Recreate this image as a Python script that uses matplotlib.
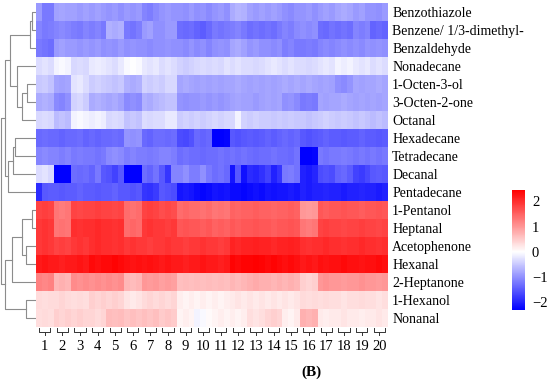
import numpy as np
import matplotlib.pyplot as plt
from matplotlib.colors import LinearSegmentedColormap, Normalize

plt.rcParams['font.family'] = ['Liberation Serif', 'DejaVu Serif']

compounds = ["Benzothiazole", "Benzene/ 1/3-dimethyl-", "Benzaldehyde", "Nonadecane",
             "1-Octen-3-ol", "3-Octen-2-one", "Octanal", "Hexadecane", "Tetradecane",
             "Decanal", "Pentadecane", "1-Pentanol", "Heptanal", "Acetophenone",
             "Hexanal", "2-Heptanone", "1-Hexanol", "Nonanal"]
groups = ["1", "2", "3", "4", "5", "6", "7", "8", "9", "10",
          "11", "12", "13", "14", "15", "16", "17", "18", "19", "20"]
n_rep = 3

# scaled values, 3 replicates per sample group
benzothiazole = [-0.9,-1.2,-1.2, -0.85,-0.8,-0.85, -0.85,-0.9,-0.85, -0.9,-0.85,-0.9, -0.95,-0.9,-1.0, -0.9,-0.95,-0.9, -1.1,-1.15,-1.05, -0.95,-0.9,-0.95, -0.95,-1.0,-0.9, -1.0,-0.95,-1.05, -0.95,-0.9,-1.0, -0.75,-0.65,-0.7, -0.85,-0.9,-0.85, -0.9,-0.85,-0.9, -1.0,-1.05,-0.95, -0.95,-0.9,-1.0, -0.9,-0.85,-0.9, -0.8,-0.75,-0.8, -0.9,-0.85,-0.95, -0.95,-1.0,-0.9]
benzene = [-1.1,-1.2,-1.15, -1.1,-1.05,-1.1, -1.15,-1.2,-1.1, -1.15,-1.1,-1.2, -0.7,-0.75,-0.7, -1.2,-1.25,-1.15, -0.9,-0.85,-1.0, -1.0,-0.9,-0.9, -1.3,-1.35,-1.3, -1.4,-1.45,-1.35, -1.2,-1.25,-1.2, -1.15,-1.1,-1.2, -1.3,-1.25,-1.3, -1.25,-1.3,-1.2, -1.1,-1.15,-1.05, -1.0,-1.05,-1.0, -1.3,-1.35,-1.25, -1.3,-1.25,-1.3, -1.1,-1.15,-1.1, -1.4,-1.35,-1.4]
benzaldehyde = [-1.2,-1.25,-1.3, -0.9,-0.85,-0.9, -0.9,-0.95,-0.9, -0.95,-0.9,-1.0, -0.95,-1.0,-0.9, -1.0,-0.95,-1.0, -1.0,-1.05,-1.0, -1.0,-0.95,-1.0, -1.0,-1.05,-0.95, -1.05,-1.0,-1.1, -1.0,-0.95,-1.0, -0.8,-0.75,-0.85, -0.95,-0.9,-1.0, -1.0,-1.05,-1.0, -1.15,-1.1,-1.2, -1.2,-1.15,-1.2, -1.1,-1.05,-1.1, -1.05,-1.0,-1.05, -1.0,-1.05,-0.95, -1.0,-0.95,-1.0]
nonadecane = [-0.3,-0.25,-0.3, -0.1,-0.05,-0.1, -0.35,-0.3,-0.35, -0.2,-0.15,-0.2, -0.25,-0.3,-0.2, -0.05,0.0,-0.05, -0.2,-0.25,-0.2, -0.3,-0.25,-0.3, -0.4,-0.45,-0.4, -0.35,-0.3,-0.35, -0.3,-0.35,-0.25, -0.3,-0.25,-0.3, -0.3,-0.35,-0.3, -0.25,-0.2,-0.25, -0.3,-0.25,-0.3, -0.3,-0.35,-0.3, -0.25,-0.2,-0.25, -0.1,-0.15,-0.1, -0.2,-0.25,-0.2, -0.3,-0.25,-0.3]
octenol = [-0.5,-0.45,-0.55, -0.8,-0.85,-0.8, -0.25,-0.2,-0.3, -0.45,-0.4,-0.45, -0.5,-0.55,-0.5, -0.7,-0.75,-0.7, -0.4,-0.45,-0.4, -0.45,-0.35,-0.35, -0.8,-0.75,-0.8, -0.85,-0.8,-0.85, -0.8,-0.85,-0.8, -0.8,-0.75,-0.8, -0.85,-0.8,-0.85, -0.8,-0.85,-0.8, -0.75,-0.8,-0.75, -0.8,-0.75,-0.8, -0.85,-0.8,-0.85, -1.0,-1.05,-0.95, -0.8,-0.85,-0.8, -0.8,-0.75,-0.8]
octenone = [-0.75,-0.7,-0.75, -1.05,-1.1,-1.0, -0.4,-0.35,-0.45, -0.75,-0.7,-0.75, -0.8,-0.75,-0.85, -1.05,-1.0,-1.05, -0.7,-0.75,-0.65, -0.6,-0.55,-0.55, -0.95,-1.0,-0.95, -0.95,-0.9,-0.95, -0.9,-0.95,-0.9, -0.85,-0.8,-0.85, -0.85,-0.9,-0.85, -0.8,-0.85,-0.8, -1.0,-0.95,-1.05, -1.2,-1.15,-1.2, -0.8,-0.85,-0.8, -0.8,-0.75,-0.8, -0.85,-0.8,-0.85, -0.8,-0.85,-0.8]
octanal = [-0.35,-0.3,-0.35, -0.6,-0.55,-0.6, -0.1,-0.05,-0.1, -0.15,-0.1,-0.15, -0.35,-0.3,-0.35, -0.55,-0.5,-0.55, -0.3,-0.35,-0.3, -0.3,-0.2,-0.2, -0.45,-0.4,-0.45, -0.4,-0.45,-0.4, -0.35,-0.4,-0.35, -0.35,-0.1,-0.4, -0.45,-0.4,-0.45, -0.45,-0.5,-0.45, -0.5,-0.45,-0.5, -0.5,-0.55,-0.5, -0.45,-0.4,-0.45, -0.5,-0.45,-0.5, -0.55,-0.5,-0.55, -0.6,-0.55,-0.6]
hexadecane = [-1.35,-1.3,-1.35, -1.35,-1.4,-1.35, -1.35,-1.3,-1.4, -1.35,-1.4,-1.35, -1.35,-1.3,-1.35, -0.95,-1.0,-0.95, -1.35,-1.4,-1.3, -1.3,-1.35,-1.3, -1.6,-1.65,-1.55, -1.35,-1.4,-1.35, -2.3,-2.3,-2.25, -1.5,-1.55,-1.5, -1.45,-1.5,-1.45, -1.4,-1.45,-1.4, -1.35,-1.4,-1.35, -1.5,-1.55,-1.5, -1.45,-1.4,-1.45, -1.45,-1.5,-1.45, -1.45,-1.4,-1.45, -1.45,-1.5,-1.45]
tetradecane = [-1.1,-1.05,-1.1, -1.1,-1.15,-1.1, -1.2,-1.15,-1.2, -1.2,-1.25,-1.2, -1.05,-1.0,-1.05, -1.15,-1.1,-1.15, -1.15,-1.2,-1.15, -1.1,-1.1,-1.15, -1.3,-1.25,-1.3, -1.3,-1.35,-1.3, -1.3,-1.25,-1.3, -1.25,-1.3,-1.25, -1.3,-1.35,-1.3, -1.3,-1.25,-1.3, -1.3,-1.35,-1.25, -2.3,-2.3,-2.25, -1.2,-1.25,-1.2, -1.2,-1.15,-1.2, -1.25,-1.2,-1.25, -1.2,-1.25,-1.2]
decanal = [-0.3,-0.25,-0.35, -2.3,-2.3,-2.3, -1.3,-1.35,-1.3, -1.4,-1.2,-1.5, -1.55,-1.7,-1.5, -2.3,-2.3,-2.3, -1.3,-1.4,-1.25, -1.5,-1.8,-1.1, -1.1,-1.0,-1.15, -1.15,-1.0,-1.2, -1.3,-1.25,-1.35, -2.1,-1.5,-2.15, -1.9,-1.95,-1.85, -1.7,-2.0,-1.8, -1.2,-1.15,-1.25, -2.0,-2.05,-1.95, -1.6,-1.55,-1.6, -1.4,-1.35,-1.45, -1.7,-1.75,-1.65, -1.5,-1.45,-1.5]
pentadecane = [-1.9,-1.5,-1.45, -1.45,-1.5,-1.45, -1.45,-1.4,-1.45, -1.45,-1.5,-1.45, -1.45,-1.4,-1.5, -1.5,-1.55,-1.5, -1.8,-1.85,-1.75, -1.5,-1.55,-1.6, -2.1,-2.05,-2.1, -2.2,-2.25,-2.2, -2.1,-2.15,-2.1, -2.2,-2.2,-2.25, -2.2,-2.15,-2.2, -2.1,-2.15,-2.1, -2.1,-2.05,-2.1, -2.0,-2.05,-2.0, -2.0,-1.95,-2.0, -2.0,-2.05,-2.0, -2.0,-1.95,-2.0, -2.0,-2.05,-2.0]
pentanol = [1.8,1.85,1.8, 1.3,1.25,1.3, 1.8,1.75,1.8, 1.8,1.85,1.8, 1.8,1.75,1.8, 1.4,1.35,1.4, 1.8,1.85,1.8, 1.7,1.75,1.7, 1.4,1.45,1.4, 1.4,1.35,1.4, 1.3,1.35,1.3, 1.5,1.45,1.5, 1.5,1.55,1.5, 1.5,1.45,1.5, 1.5,1.55,1.5, 1.0,0.95,1.0, 1.6,1.55,1.6, 1.6,1.65,1.6, 1.6,1.55,1.6, 1.6,1.65,1.6]
heptanal = [1.9,1.95,1.9, 1.3,1.35,1.3, 2.0,1.95,2.0, 2.0,2.05,2.0, 2.0,1.95,2.0, 1.4,1.45,1.4, 1.9,1.95,1.9, 1.9,1.85,1.9, 1.6,1.65,1.6, 1.6,1.55,1.6, 1.5,1.55,1.5, 1.6,1.55,1.6, 1.6,1.65,1.6, 1.6,1.55,1.6, 1.6,1.65,1.6, 1.3,1.25,1.3, 1.8,1.85,1.8, 1.8,1.75,1.8, 1.8,1.85,1.8, 1.8,1.75,1.8]
acetophenone = [1.9,1.95,1.9, 1.8,1.85,1.8, 1.9,1.95,1.9, 2.0,2.05,2.0, 2.0,1.95,2.0, 1.9,1.95,1.9, 1.9,1.85,1.9, 1.9,1.95,1.9, 1.9,1.85,1.9, 1.9,1.95,1.9, 1.9,1.85,1.9, 2.1,2.05,2.1, 2.1,2.15,2.1, 2.1,2.05,2.1, 2.1,2.15,2.1, 2.0,1.95,2.0, 2.0,2.05,2.0, 2.0,1.95,2.0, 2.0,2.05,2.0, 2.0,1.95,2.0]
hexanal = [2.2,2.25,2.2, 2.2,2.15,2.2, 2.2,2.25,2.2, 2.35,2.3,2.35, 2.35,2.4,2.35, 2.3,2.25,2.3, 2.25,2.3,2.25, 2.2,2.25,2.2, 2.2,2.15,2.2, 2.2,2.25,2.2, 2.2,2.15,2.2, 2.4,2.35,2.4, 2.4,2.45,2.4, 2.35,2.4,2.35, 2.3,2.35,2.3, 2.2,2.25,2.2, 2.3,2.25,2.3, 2.3,2.35,2.3, 2.3,2.25,2.3, 2.3,2.35,2.3]
heptanone = [1.2,1.15,1.2, 0.7,0.75,0.7, 1.1,1.05,1.1, 1.05,1.1,1.05, 1.1,1.05,1.1, 0.7,0.65,0.7, 1.0,0.95,1.0, 0.9,0.95,0.9, 0.6,0.65,0.6, 0.65,0.6,0.65, 0.6,0.65,0.6, 0.7,0.65,0.7, 0.75,0.8,0.75, 0.75,0.7,0.75, 0.7,0.75,0.7, 0.45,0.4,0.45, 1.0,1.05,1.0, 1.0,0.95,1.0, 1.0,1.05,1.0, 1.0,0.95,1.0]
hexanol = [0.35,0.3,0.35, 0.35,0.4,0.35, 0.3,0.35,0.3, 0.45,0.4,0.45, 0.4,0.45,0.4, 0.25,0.2,0.25, 0.35,0.4,0.35, 0.4,0.35,0.4, 0.15,0.1,0.15, 0.1,0.15,0.1, 0.15,0.1,0.15, 0.2,0.25,0.2, 0.25,0.2,0.25, 0.2,0.25,0.2, 0.25,0.2,0.25, 0.35,0.3,0.35, 0.3,0.35,0.3, 0.3,0.25,0.3, 0.3,0.35,0.3, 0.3,0.25,0.3]
nonanal = [0.3,0.35,0.3, 0.45,0.4,0.45, 0.4,0.45,0.4, 0.4,0.35,0.4, 0.65,0.6,0.65, 0.55,0.6,0.55, 0.6,0.55,0.6, 0.5,0.55,0.5, 0.1,0.15,0.1, -0.1,-0.05,0.05, 0.1,0.15,0.1, 0.15,0.1,0.15, 0.3,0.25,0.3, 0.4,0.45,0.4, 0.15,0.1,0.2, 0.75,0.7,0.75, 0.2,0.15,0.2, 0.2,0.25,0.2, 0.2,0.15,0.2, 0.2,0.25,0.2]

values = [benzothiazole, benzene, benzaldehyde, nonadecane, octenol, octenone, octanal,
          hexadecane, tetradecane, decanal, pentadecane, pentanol, heptanal, acetophenone,
          hexanal, heptanone, hexanol, nonanal]

# row dendrogram merges (scipy style ids: leaves 0-17, new clusters from 18)
linkage = [(0, 1, 4), (18, 2, 6), (4, 5, 9), (20, 6, 14), (3, 21, 19), (19, 22, 26),
           (7, 8, 21), (24, 9, 23), (25, 10, 28), (23, 26, 31),
           (11, 12, 4), (13, 14, 10), (28, 29, 14), (30, 15, 24), (16, 17, 10),
           (31, 32, 31), (27, 33, 35)]

vmin, vmax = -2.3, 2.45

data = np.array(values)
W, H = 550, 385
fig = plt.figure(figsize=(W / 100, H / 100), dpi=100)

def box(x0, y0, x1, y1):
    return [x0 / W, 1 - y1 / H, (x1 - x0) / W, (y1 - y0) / H]

ax = fig.add_axes(box(36, 3, 388, 327))
cmap = LinearSegmentedColormap.from_list(
    'bwr2', [(0, 'blue'), (-vmin / (vmax - vmin), 'white'), (1, 'red')])
im = ax.imshow(data, cmap=cmap, norm=Normalize(vmin, vmax), aspect='auto',
               interpolation='nearest')
for s in ax.spines.values():
    s.set_visible(False)
ax.yaxis.tick_right()
ax.set_yticks(range(len(compounds)))
ax.set_yticklabels(compounds, fontsize=10)
centers = [g * n_rep + (n_rep - 1) / 2 for g in range(len(groups))]
ax.set_xticks(centers)
ax.set_xticklabels(groups, fontsize=10.5)
ax.tick_params(length=0)
ax.tick_params(axis='y', pad=3)
ax.tick_params(axis='x', pad=9)

# braces under each sample group
xl, yl = ax.get_xlim(), ax.get_ylim()
bot = len(compounds) - 0.5
for c in centers:
    x0, x1 = c - 0.95, c + 0.95
    ax.plot([x0, x0, x1, x1], [bot + 0.06, bot + 0.27, bot + 0.27, bot + 0.06],
            color='#333333', lw=0.7, clip_on=False)
    ax.plot([c, c], [bot + 0.27, bot + 0.42], color='#333333', lw=0.7, clip_on=False)
ax.set_xlim(xl)
ax.set_ylim(yl)

# row dendrogram
dax = fig.add_axes(box(0, 3, 36, 327))
pos = {i: (float(i), 0.0) for i in range(len(compounds))}
for k, (a, b, h) in enumerate(linkage):
    ya, ha = pos[a]
    yb, hb = pos[b]
    dax.plot([ha, h, h, hb], [ya, ya, yb, yb], color='#8c8c8c', lw=0.8)
    pos[len(compounds) + k] = ((ya + yb) / 2, h)
dax.set_xlim(36, 0)
dax.set_ylim(yl)
dax.axis('off')

# colour legend
cax = fig.add_axes(box(512, 190, 525, 310))
cb = fig.colorbar(im, cax=cax, ticks=[-2, -1, 0, 1, 2])
cb.outline.set_visible(False)
cax.tick_params(length=0, labelsize=10.5, pad=5)

fig.text(311 / W, 1 - 372 / H, '(B)', ha='center', va='center',
         fontsize=11, fontweight='bold')

fig.savefig('out.png', dpi=100)
